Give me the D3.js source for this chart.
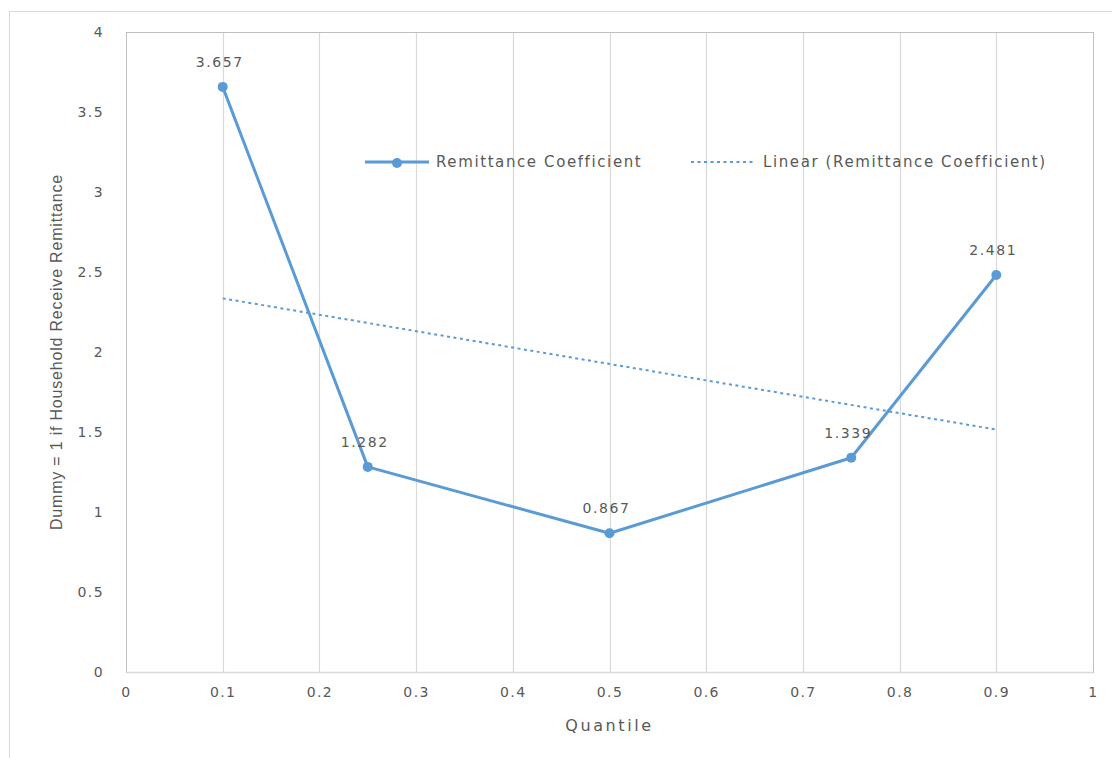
<!DOCTYPE html>
<html>
<head>
<meta charset="utf-8">
<script src="https://cdn.jsdelivr.net/npm/d3@7"></script>
<style>
  html, body { margin: 0; padding: 0; background: #fff; }
  svg { display: block; }
  text { font-family: "DejaVu Sans", Verdana, sans-serif; fill: #595959; }
</style>
</head>
<body>
<svg id="chart" width="1112" height="758"></svg>
<script>
// Quantile regression results: remittance coefficient by quantile
const quantiles = [0.1, 0.25, 0.5, 0.75, 0.9];
const coefficients = [3.657, 1.282, 0.867, 1.339, 2.481];
const xTicks = [0, 0.1, 0.2, 0.3, 0.4, 0.5, 0.6, 0.7, 0.8, 0.9, 1];
const yTicks = [0, 0.5, 1, 1.5, 2, 2.5, 3, 3.5, 4];
const seriesName = "Remittance Coefficient";
const trendName = "Linear (Remittance Coefficient)";
const xTitle = "Quantile";
const yTitle = "Dummy = 1 if Household Receive Remittance";

const color = "#5B9BD5";
const grid = "#d9d9d9";

const svg = d3.select("#chart");
const plot = { left: 126, right: 1093, top: 32, bottom: 672 };

const x = d3.scaleLinear().domain([0, 1]).range([plot.left, plot.right]);
const y = d3.scaleLinear().domain([0, 4]).range([plot.bottom, plot.top]);

// outer chart frame
svg.append("rect")
  .attr("x", 9.5).attr("y", 11.5)
  .attr("width", 1112).attr("height", 760)
  .attr("fill", "none").attr("stroke", "#d9d9d9");

// vertical gridlines
svg.append("g")
  .selectAll("line")
  .data(xTicks.filter(t => t > 0 && t < 1))
  .join("line")
  .attr("x1", d => Math.round(x(d)) + 0.5).attr("x2", d => Math.round(x(d)) + 0.5)
  .attr("y1", plot.top).attr("y2", plot.bottom)
  .attr("stroke", grid).attr("stroke-width", 1.2);

// plot area border
svg.append("rect")
  .attr("x", plot.left + 0.5).attr("y", plot.top + 0.5)
  .attr("width", plot.right - plot.left).attr("height", plot.bottom - plot.top)
  .attr("fill", "none").attr("stroke", "#bfbfbf").attr("stroke-width", 1);

// x axis
const xAxis = svg.append("g")
  .attr("transform", `translate(0,${plot.bottom})`)
  .call(d3.axisBottom(x).tickValues(xTicks).tickSize(0).tickPadding(15)
    .tickFormat(d => String(d)));
xAxis.select(".domain").attr("stroke", "#d9d9d9").attr("stroke-width", 1.5);
xAxis.selectAll("text").style("font-size", "14px").style("letter-spacing", "1.4px")
  .attr("fill", "#595959");

// y axis
const yAxis = svg.append("g")
  .attr("transform", `translate(${plot.left},0)`)
  .call(d3.axisLeft(y).tickValues(yTicks).tickSize(0).tickPadding(22)
    .tickFormat(d => String(d)));
yAxis.select(".domain").remove();
yAxis.selectAll("text").style("font-size", "14px").style("letter-spacing", "1.4px")
  .attr("fill", "#595959");

// axis titles
svg.append("text")
  .attr("x", (plot.left + plot.right) / 2).attr("y", 731)
  .attr("text-anchor", "middle")
  .style("font-size", "16px").style("letter-spacing", "2.6px")
  .text(xTitle);

svg.append("text")
  .attr("transform", `translate(62,${(plot.top + plot.bottom) / 2}) rotate(-90)`)
  .attr("text-anchor", "middle")
  .style("font-family", "'Liberation Sans', Arial, sans-serif")
  .style("font-size", "16px").style("letter-spacing", "0.8px")
  .text(yTitle);

const data = quantiles.map((q, i) => ({ q, v: coefficients[i] }));

// linear trendline (least squares fit of the series)
const mx = d3.mean(quantiles), my = d3.mean(coefficients);
const slope = d3.sum(data, d => (d.q - mx) * (d.v - my)) / d3.sum(data, d => (d.q - mx) ** 2);
const intercept = my - slope * mx;
const xr = d3.extent(quantiles);
svg.append("line")
  .attr("x1", x(xr[0])).attr("y1", y(intercept + slope * xr[0]))
  .attr("x2", x(xr[1])).attr("y2", y(intercept + slope * xr[1]))
  .attr("stroke", color).attr("stroke-width", 2)
  .attr("stroke-dasharray", "3,3.5");

// series line
svg.append("path")
  .datum(data)
  .attr("d", d3.line().x(d => x(d.q)).y(d => y(d.v)))
  .attr("fill", "none").attr("stroke", color).attr("stroke-width", 3)
  .attr("stroke-linejoin", "round");

svg.append("g")
  .selectAll("circle")
  .data(data)
  .join("circle")
  .attr("cx", d => x(d.q)).attr("cy", d => y(d.v)).attr("r", 5)
  .attr("fill", color);

// data labels
svg.append("g")
  .selectAll("text")
  .data(data)
  .join("text")
  .attr("x", d => x(d.q) - 3).attr("y", d => y(d.v) - 20)
  .attr("text-anchor", "middle")
  .style("font-size", "14px").style("letter-spacing", "1.6px").attr("fill", "#404040")
  .text(d => d.v.toFixed(3));

// legend
const ly = 162;
const leg = svg.append("g");
leg.append("line").attr("x1", 365).attr("x2", 429).attr("y1", ly).attr("y2", ly)
  .attr("stroke", color).attr("stroke-width", 3);
leg.append("circle").attr("cx", 397).attr("cy", ly + 1).attr("r", 5).attr("fill", color);
leg.append("text").attr("x", 436).attr("y", ly + 5)
  .style("font-size", "15px").style("letter-spacing", "1.6px").text(seriesName);
leg.append("line").attr("x1", 691).attr("x2", 754).attr("y1", ly).attr("y2", ly)
  .attr("stroke", color).attr("stroke-width", 2).attr("stroke-dasharray", "3,3.5");
leg.append("text").attr("x", 763).attr("y", ly + 5)
  .style("font-size", "15px").style("letter-spacing", "1.6px").text(trendName);
</script>
</body>
</html>
